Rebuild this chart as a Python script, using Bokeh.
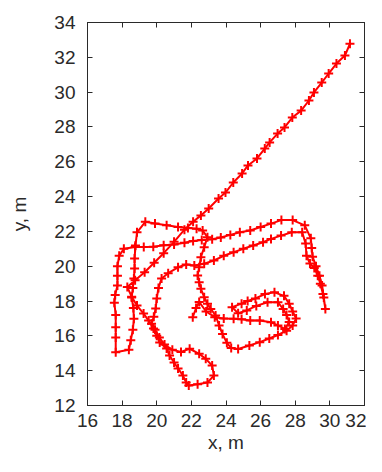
from bokeh.plotting import figure
from bokeh.models import LinearAxis, Range1d, FixedTicker, ColumnDataSource
from bokeh.embed import file_html
from bokeh.resources import INLINE

# Trajectory (metres), in recorded order
x_m = [31.16, 30.87, 30.38, 29.93, 29.53, 29.08, 28.79, 28.34, 27.83, 27.38, 26.98, 26.52, 26.24, 25.79, 25.27,
       24.93, 24.42, 23.97, 23.57, 23.00, 22.55, 22.10, 21.60, 21.00, 20.40, 19.85, 19.30, 18.75, 18.30,
       18.55, 18.86, 19.24, 19.53, 19.81, 20.00, 20.17, 20.57, 20.74, 21.00, 21.23, 21.51, 21.70,
       21.85, 22.36, 22.93, 23.30, 23.20, 22.83, 22.45, 21.90, 21.40, 20.90, 20.45, 20.15, 19.90, 19.70,
       19.83, 19.94, 20.00, 20.10, 20.28, 20.66, 21.23, 21.70,
       22.17, 22.74, 23.30, 23.87, 24.44, 25.00, 25.57, 26.14, 26.60, 27.18, 27.80, 28.40,
       28.60, 28.65, 28.85, 29.10, 29.30, 29.45, 29.60, 29.74,
       29.65, 29.55, 29.40, 29.20, 29.00, 28.95, 28.90, 28.55, 27.85, 27.20, 26.60,
       26.00, 25.40, 24.80, 24.25, 23.70, 23.20, 22.60, 22.10, 21.60, 21.00, 20.40, 19.80, 19.25, 18.75, 18.10,
       17.83, 17.73, 17.73, 17.73, 17.60, 17.55, 17.63, 17.63, 17.63, 17.63,
       18.39, 18.50, 18.62, 18.68, 18.65, 18.55, 18.62, 18.68, 18.72, 18.72, 18.77, 18.86,
       19.34, 19.90, 20.57, 21.23, 21.80, 22.30,
       22.65, 22.93, 22.74, 22.55, 22.45, 22.36, 22.45, 22.55, 22.74, 22.93, 23.12, 23.40,
       23.60, 23.80, 24.05, 24.30, 24.70, 25.35, 25.95, 26.50, 27.00, 27.50, 27.85, 28.05, 27.85, 27.65,
       27.35, 26.80, 26.25, 25.70, 25.25, 24.90, 24.35,
       24.70, 25.20, 25.75, 26.40, 27.00, 27.30, 27.50, 27.65, 27.40, 27.00, 26.60, 25.95, 25.40, 24.90,
       24.44, 23.87, 23.35,
       22.85, 22.45, 22.27, 22.08]
y_m = [32.78, 32.10, 31.64, 31.07, 30.55, 29.98, 29.52, 28.94, 28.54, 27.97, 27.62, 27.11, 26.76, 26.19, 25.79,
       25.33, 24.81, 24.23, 23.89, 23.32, 22.92, 22.55, 22.10, 21.40, 20.75, 20.20, 19.65, 19.20, 18.80,
       18.25, 17.74, 17.28, 16.88, 16.42, 16.00, 15.62, 15.27, 14.87, 14.47, 14.13, 13.72, 13.32,
       13.15, 13.22, 13.32, 13.72, 14.30, 14.68, 14.97, 15.26, 15.08, 15.20, 15.50, 15.90, 16.35, 16.70,
       17.10, 17.57, 18.15, 18.75, 19.30, 19.60, 19.94, 20.10,
       20.04, 20.14, 20.33, 20.60, 20.80, 21.00, 21.19, 21.38, 21.57, 21.76, 21.95, 21.95,
       21.30, 20.60, 20.15, 19.90, 19.45, 19.00, 18.40, 17.55,
       18.20, 18.90, 19.45, 20.00, 20.55, 21.05, 21.60, 22.35, 22.65, 22.65, 22.45,
       22.25, 22.05, 21.95, 21.80, 21.65, 21.55, 21.50, 21.45, 21.35, 21.25, 21.20, 21.12, 21.10, 21.10, 21.00,
       20.60, 20.00, 19.45, 18.90, 18.35, 17.90, 17.20, 16.50, 15.90, 15.06,
       15.20, 15.75, 16.35, 16.98, 17.60, 18.20, 18.75, 19.30, 19.87, 20.45, 21.19, 21.95,
       22.55, 22.45, 22.35, 22.25, 22.20, 22.15,
       22.05, 21.67, 21.09, 20.52, 19.94, 19.47, 19.08, 18.70, 18.22, 17.84, 17.55, 17.17,
       16.60, 16.10, 15.60, 15.30, 15.25, 15.45, 15.64, 15.85, 16.05, 16.30, 16.60, 17.00, 17.40, 17.85,
       18.30, 18.50, 18.40, 18.15, 18.00, 17.85, 17.65,
       17.30, 17.46, 17.72, 17.93, 17.93, 17.55, 17.20, 16.80, 16.40, 16.60, 16.78, 16.88, 16.88, 16.95,
       16.98, 17.00, 17.07,
       17.40, 17.95, 17.60, 17.07]

x_ticks = [16, 18, 20, 22, 24, 26, 28, 30, 32]
y_ticks = [12, 14, 16, 18, 20, 22, 24, 26, 28, 30, 32, 34]

FONT = "Liberation Sans"
INK = "#2a2a2a"

p = figure(width=366, height=456, x_range=Range1d(16, 32), y_range=Range1d(12, 34),
           output_backend="svg", toolbar_location=None,
           min_border_left=87, min_border_right=2, min_border_top=22, min_border_bottom=51)
p.grid.visible = False
p.outline_line_color = INK
p.outline_line_width = 1
p.background_fill_color = "white"
p.border_fill_color = "white"

p.xaxis.ticker = FixedTicker(ticks=x_ticks)
p.yaxis.ticker = FixedTicker(ticks=y_ticks)
p.xaxis.axis_label = "x, m"
p.yaxis.axis_label = "y, m"

for ax in [p.xaxis[0], p.yaxis[0]]:
    ax.major_tick_in = 5
    ax.major_tick_out = 0
    ax.minor_tick_line_color = None
    ax.axis_line_color = INK
    ax.major_tick_line_color = INK
    ax.major_label_text_font = FONT
    ax.major_label_text_font_size = "19px"
    ax.major_label_text_color = INK
    ax.axis_label_text_font = FONT
    ax.axis_label_text_font_size = "19px"
    ax.axis_label_text_font_style = "normal"
    ax.axis_label_text_color = INK

p.xaxis.major_label_standoff = 8
p.xaxis.axis_label_standoff = 2
p.yaxis.major_label_standoff = 12
p.yaxis.axis_label_standoff = 21

for loc, tk in [("above", x_ticks), ("right", y_ticks)]:
    ax = LinearAxis(ticker=FixedTicker(ticks=tk))
    ax.major_tick_in = 5
    ax.major_tick_out = 0
    ax.minor_tick_line_color = None
    ax.axis_line_color = INK
    ax.major_tick_line_color = INK
    ax.major_label_overrides = {t: "" for t in tk}
    ax.major_label_standoff = 0
    p.add_layout(ax, loc)

src = ColumnDataSource(data=dict(x=x_m, y=y_m))
p.line("x", "y", source=src, line_color="#ff0000", line_width=2)
p.scatter("x", "y", source=src, marker="cross", size=9, line_color="#ff0000", line_width=2)

open("out.html", "w").write(file_html(p, INLINE))
